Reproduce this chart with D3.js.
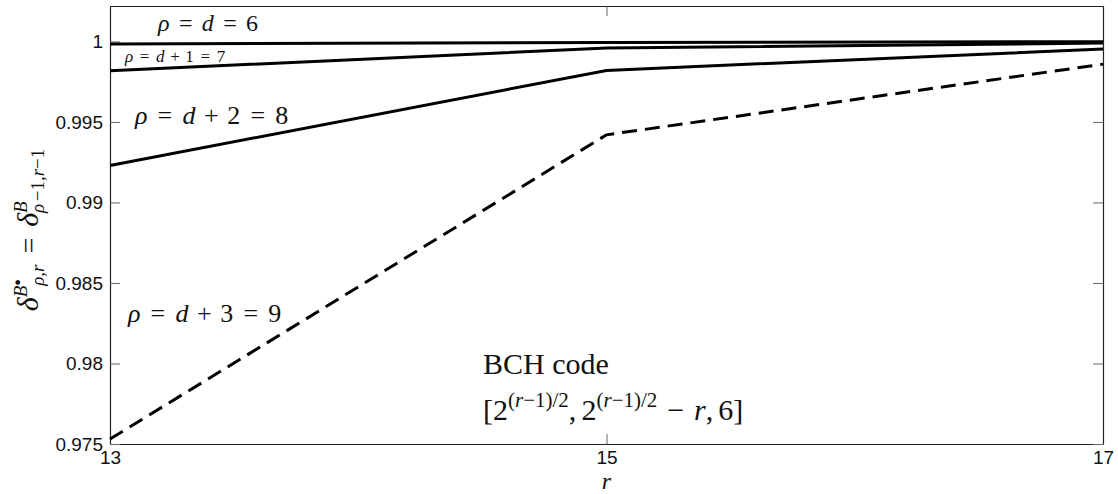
<!DOCTYPE html>
<html>
<head>
<meta charset="utf-8">
<script src="https://cdn.jsdelivr.net/npm/d3@7"></script>
<style>
  body { margin: 0; background: #fff; }
  .tick text { font-family: "Liberation Sans", Arial, sans-serif; }
  .math text { font-family: "Liberation Serif", "Times New Roman", serif; fill: #111; }
</style>
</head>
<body>
<div id="chart"></div>
<script>
// data
var rValues = [13, 15, 17];
var rho6 = [0.99984, 0.99994, 0.99998];
var rho7 = [0.99818, 0.99959, 0.99990];
var rho8 = [0.99229, 0.99820, 0.99953];
var rho9 = [0.97531, 0.99420, 0.99859];
var xTicks = [13, 15, 17];
var yTicks = [0.975, 0.98, 0.985, 0.99, 0.995, 1];

var W = 1118, H = 494;
var margin = {top: 6, right: 15, bottom: 50, left: 110},
    width = W - margin.left - margin.right,
    height = H - margin.top - margin.bottom;

var svg = d3.select("#chart")
  .append("svg")
    .attr("width", W)
    .attr("height", H);

var plot = svg.append("g")
    .attr("transform", "translate(" + margin.left + "," + margin.top + ")");

var x = d3.scaleLinear().domain([13, 17]).range([0, width]);
var y = d3.scaleLinear().domain([0.975, 1.0022]).range([height, 0]);

// axes, MATLAB style: ticks pointing inward on all four sides
function styleAxis(g) {
  g.select(".domain").attr("stroke", "#222").attr("stroke-width", 1.2);
  g.selectAll(".tick line").attr("stroke", "#666");
  g.selectAll(".tick text").style("font-size", "19px").attr("fill", "#111");
}

plot.append("g")
  .attr("transform", "translate(0," + height + ")")
  .call(d3.axisBottom(x).tickValues(xTicks).tickSizeInner(-10).tickSizeOuter(0).tickPadding(7)
    .tickFormat(d3.format("d")))
  .call(styleAxis);

plot.append("g")
  .call(d3.axisTop(x).tickValues(xTicks).tickSizeInner(-10).tickSizeOuter(0).tickFormat(""))
  .call(styleAxis);

plot.append("g")
  .call(d3.axisLeft(y).tickValues(yTicks).tickSizeInner(-10).tickSizeOuter(0).tickPadding(7)
    .tickFormat(function(d) { return +d.toFixed(3); }))
  .call(styleAxis);

plot.append("g")
  .attr("transform", "translate(" + width + ",0)")
  .call(d3.axisRight(y).tickValues(yTicks).tickSizeInner(-10).tickSizeOuter(0).tickFormat(""))
  .call(styleAxis);

// the four curves
var series = [
  {vals: rho6, dash: null},
  {vals: rho7, dash: null},
  {vals: rho8, dash: null},
  {vals: rho9, dash: "15,8"}
];

var line = d3.line()
  .x(function(d, i) { return x(rValues[i]); })
  .y(function(d) { return y(d); });

plot.selectAll(".curve")
  .data(series)
  .enter()
  .append("path")
    .attr("class", "curve")
    .attr("d", function(d) { return line(d.vals); })
    .attr("fill", "none")
    .attr("stroke", "#000")
    .attr("stroke-width", 3)
    .attr("stroke-dasharray", function(d) { return d.dash; });

// little helper to lay out math-ish text with sup/sub pieces
// parts: {s, size, up, it, stack, pad (em before), padR (em after)}
function mathRun(g, x0, y0, parts) {
  var cx = x0, anchor = x0, end = x0;
  parts.forEach(function(p) {
    var px = p.stack ? anchor : cx + (p.pad || 0) * p.size;
    var t = g.append("text")
      .attr("x", px)
      .attr("y", y0 - (p.up || 0))
      .style("font-size", p.size + "px")
      .style("font-style", p.it ? "italic" : "normal")
      .text(p.s);
    var w = t.node().getComputedTextLength() + (p.padR || 0) * p.size;
    if (p.stack) {
      end = Math.max(end, anchor + w);
      cx = end;
    } else {
      anchor = px;
      cx = px + w;
      end = cx;
    }
  });
  return end - x0;
}

var math = svg.append("g").attr("class", "math");

// relation / binary operator with TeX-like spacing
function rel(s, size) { return {s: s, size: size, pad: 0.39, padR: 0.39}; }
function bin(s, size) { return {s: s, size: size, pad: 0.33, padR: 0.33}; }

function rhoLabel(xp, yp, size, k, val) {
  var parts = [{s: "ρ", size: size, it: true}, rel("=", size), {s: "d", size: size, it: true}];
  if (k) { parts.push(bin("+", size)); parts.push({s: k, size: size}); }
  parts.push(rel("=", size));
  parts.push({s: val, size: size});
  mathRun(math, xp, yp, parts);
}
rhoLabel(158, 31, 24, null, "6");
rhoLabel(125, 62, 17, "1", "7");
rhoLabel(135, 124, 26, "2", "8");
rhoLabel(128, 322, 26, "3", "9");

// BCH annotation
mathRun(math, 483, 374, [{s: "BCH code", size: 30}]);
function supExp() {
  return [
    {s: "(", size: 21, up: 13},
    {s: "r", size: 21, up: 13, it: true},
    {s: "\u2212", size: 21, up: 13},
    {s: "1)/2", size: 21, up: 13}
  ];
}
mathRun(math, 483, 420, [{s: "[2", size: 30}]
  .concat(supExp())
  .concat([{s: ",", size: 30, padR: 0.17}, {s: "2", size: 30}])
  .concat(supExp())
  .concat([
    bin("\u2212", 30),
    {s: "r", size: 30, it: true},
    {s: ",", size: 30, padR: 0.17},
    {s: "6]", size: 30}
  ]));

// x label
math.append("text")
  .attr("x", margin.left + x(15))
  .attr("y", 489)
  .attr("text-anchor", "middle")
  .style("font-size", "24px")
  .style("font-style", "italic")
  .text("r");

// y label, rotated
var yl = math.append("g");
var ylw = mathRun(yl, 0, 0, [
  {s: "δ", size: 30, it: true},
  {s: "B", size: 19, up: 11, it: true},
  {s: "●", size: 11, up: 17},
  {s: "ρ,r", size: 19, up: -6, it: true, stack: true},
  rel("=", 28),
  {s: "δ", size: 30, it: true},
  {s: "B", size: 19, up: 11, it: true},
  {s: "ρ", size: 19, up: -6, it: true, stack: true},
  {s: "\u22121,", size: 19, up: -6},
  {s: "r", size: 19, up: -6, it: true},
  {s: "\u22121", size: 19, up: -6}
]);
yl.attr("transform", "translate(38," + (230 + ylw / 2) + ") rotate(-90)");
</script>
</body>
</html>
